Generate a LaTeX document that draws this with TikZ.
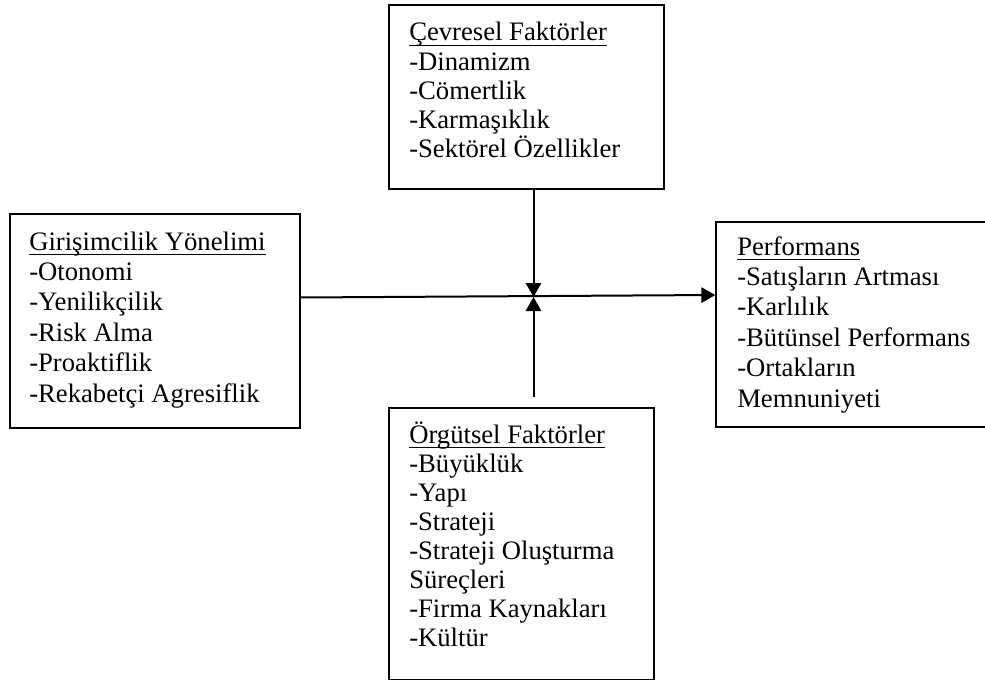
\documentclass[tikz,border=0pt]{standalone}
\usepackage{fontspec}
\setmainfont{Liberation Serif}
\usetikzlibrary{arrows.meta,fit}

% title line with a fixed-depth underline
\newcommand\headline[1]{\setbox0\hbox{#1}\rlap{\rule[-4pt]{\wd0}{0.9pt}}\box0}
% stack of lines at a fixed baseline distance, baseline = first line
\newcommand\linestack[1]{\vtop{\lineskiplimit=-100pt\lineskip=0pt #1}}

\tikzset{
  frame/.style={draw=black, line width=1pt, inner sep=0pt, fill=none},
  body/.style={anchor=base west, inner sep=0pt, align=left},
  wide/.style={font=\fontsize{20}{22.8}\selectfont},
  tight/.style={font=\fontsize{20}{21.8}\selectfont},
  link/.style={line width=1.5pt, -{Triangle[length=10.5pt,width=11.5pt]}}
}

\begin{document}
\begin{tikzpicture}[x=0.75pt,y=-0.75pt]
\useasboundingbox[fill=white] (0,0) rectangle (985,681);

% frames
\node[frame, fit={(389,5) (664,189)}] (cevre) {};
\node[frame, fit={(10,214) (300,428)}] (giris) {};
\node[frame, fit={(716,222) (988,427)}] (perf) {};
\node[frame, fit={(389,408) (654,679.5)}] (orgut) {};

% texts
\node[body, tight] (cevreText) at (409,41) {\linestack{%
  \hbox{\headline{Çevresel Faktörler}}
  \hbox{-Dinamizm}
  \hbox{-Cömertlik}
  \hbox{-Karmaşıklık}
  \hbox{-Sektörel Özellikler}}};

\node[body, wide] (girisText) at (29,250) {\linestack{%
  \hbox{\headline{Girişimcilik Yönelimi}}
  \hbox{-Otonomi}
  \hbox{-Yenilikçilik}
  \hbox{-Risk Alma}
  \hbox{-Proaktiflik}
  \hbox{-Rekabetçi Agresiflik}}};

\node[body, wide] (perfText) at (737,255) {\linestack{%
  \hbox{\headline{Performans}}
  \hbox{-Satışların Artması}
  \hbox{-Karlılık}
  \hbox{-Bütünsel Performans}
  \hbox{-Ortakların}
  \hbox{Memnuniyeti}}};

\node[body, tight] (orgutText) at (409,443) {\linestack{%
  \hbox{\headline{Örgütsel Faktörler}}
  \hbox{-Büyüklük}
  \hbox{-Yapı}
  \hbox{-Strateji}
  \hbox{-Strateji Oluşturma}
  \hbox{Süreçleri}
  \hbox{-Firma Kaynakları}
  \hbox{-Kültür}}};

% connectors
\coordinate (meet) at (533.5,297);
\coordinate (lowend) at (533.5,397);
\coordinate (leftrow) at (0,297.5);
\coordinate (rightrow) at (0,295);

\draw[link] (giris.east |- leftrow) -- (perf.west |- rightrow);
\draw[link] (cevre.south -| meet) -- (meet);
\draw[link] (lowend) -- (meet);
\end{tikzpicture}
\end{document}
